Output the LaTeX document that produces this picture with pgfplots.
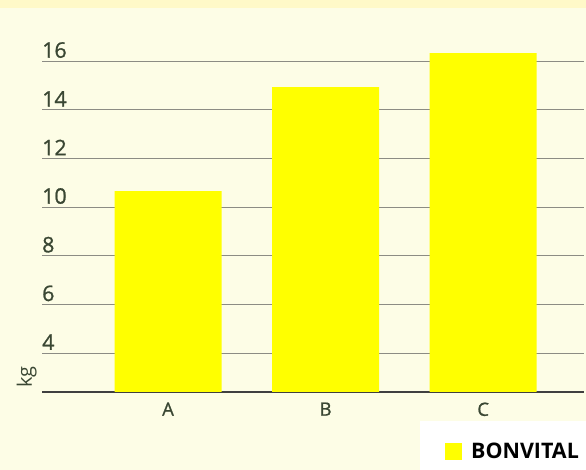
\documentclass[border=0pt]{standalone}
\usepackage{fontspec}
\setmainfont{Open Sans}
\newfontfamily\labfont{Open Sans}[FakeBold=1.0]
\usepackage{pgfplots}
\pgfplotsset{compat=1.18}
\definecolor{bg}{HTML}{FDFDE6}
\definecolor{band}{HTML}{FFF9C8}
\definecolor{baryellow}{HTML}{FFFF00}
\definecolor{lab}{HTML}{3A4733}
\definecolor{gridc}{HTML}{8C8C84}
\begin{document}
\begin{tikzpicture}
\useasboundingbox (0bp,0bp) rectangle (586bp,470bp);
\fill[bg] (0bp,0bp) rectangle (586bp,470bp);
\fill[band] (0bp,462bp) rectangle (586bp,470bp);
\fill[white] (420bp,0bp) rectangle (586bp,49bp);
\begin{axis}[
  at={(42bp,78bp)}, anchor=south west,
  scale only axis, width=542bp, height=362.5bp,
  xmin=-0.8, xmax=2.64, ymin=2.4, ymax=17.3,
  axis x line*=bottom, axis y line*=left,
  y axis line style={draw=none},
  x axis line style={draw=black!75, line width=1.3bp, -},
  ytick={4,6,8,10,12,14,16},
  xtick={0,1,2}, xticklabels={A,B,C},
  major tick length=0pt,
  ymajorgrids, grid style={draw=gridc, line width=0.6bp},
  /pgf/number format/assume math mode=true,
  yticklabel style={anchor=south west, inner sep=0pt, xshift=0bp, yshift=3bp,
    font=\labfont\fontsize{21.5}{24}\selectfont, text=lab},
  xticklabel style={font=\labfont\fontsize{18.5}{20}\selectfont, text=lab, yshift=-7bp},
  ylabel={kg},
  ylabel style={at={(axis description cs:-0.028,0.041)}, anchor=center,
    font=\fontsize{20}{22}\selectfont, text=lab},
  ybar, bar width=107bp,
  legend style={at={(axis description cs:0.7435,-0.1628)}, anchor=west,
    draw=none, fill=none, inner sep=0pt,
    font=\bfseries\fontsize{21.5}{23}\selectfont,
    /tikz/every odd column/.append style={column sep=7bp}},
  legend cell align=left,
  legend image code/.code={\fill[baryellow] (0bp,-9bp) rectangle (17bp,8bp);},
]
\addplot[fill=baryellow, draw=none] coordinates {(0,10.66) (1,14.93) (2,16.33)};
\addlegendentry{BONVITAL}
\end{axis}
\end{tikzpicture}
\end{document}
